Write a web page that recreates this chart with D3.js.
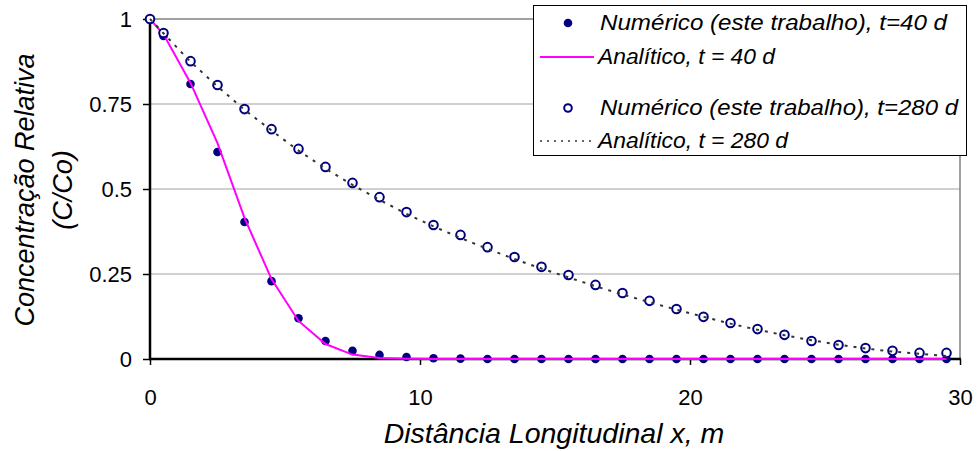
<!DOCTYPE html>
<html>
<head>
<meta charset="utf-8">
<script src="https://cdn.jsdelivr.net/npm/d3@7"></script>
<style>
  body { margin: 0; background: #fff; }
  text { font-family: "Liberation Sans", Arial, sans-serif; fill: #000; }
  .tick text { font-size: 22px; }
  .title { font-size: 28.5px; font-style: italic; }
  .ytitle { font-size: 27px; font-style: italic; }
  .legend text { font-size: 22px; font-style: italic; }
</style>
</head>
<body>
<svg width="980" height="451"></svg>
<script>
// distance (m)
const xs = [0, 0.5, 1.5, 2.5, 3.5, 4.5, 5.5, 6.5, 7.5, 8.5, 9.5, 10.5, 11.5, 12.5, 13.5, 14.5,
            15.5, 16.5, 17.5, 18.5, 19.5, 20.5, 21.5, 22.5, 23.5, 24.5, 25.5, 26.5, 27.5, 28.5, 29.5];

const num40 = [1, 0.95, 0.809, 0.609, 0.403, 0.229, 0.12, 0.053, 0.024, 0.012, 0.006, 0.002, 0.001, 0, 0, 0,
               0, 0, 0, 0, 0, 0, 0, 0, 0, 0, 0, 0, 0, 0, 0];
const ana40 = [1, 0.955, 0.812, 0.635, 0.415, 0.235, 0.112, 0.044, 0.013, 0.003, 0.001, 0, 0, 0, 0, 0,
               0, 0, 0, 0, 0, 0, 0, 0, 0, 0, 0, 0, 0, 0, 0];
const num280 = [1, 0.959, 0.876, 0.806, 0.735, 0.676, 0.618, 0.565, 0.518, 0.476, 0.432, 0.394, 0.365, 0.329, 0.300, 0.271,
                0.247, 0.218, 0.194, 0.171, 0.147, 0.124, 0.106, 0.088, 0.071, 0.053, 0.041, 0.032, 0.024, 0.018, 0.018];
const ana280 = [1, 0.958, 0.874, 0.802, 0.733, 0.672, 0.613, 0.560, 0.512, 0.468, 0.427, 0.390, 0.356, 0.324, 0.294, 0.266,
                0.240, 0.214, 0.190, 0.167, 0.145, 0.124, 0.104, 0.086, 0.070, 0.055, 0.042, 0.031, 0.022, 0.015, 0.009];

const xTicks = [0, 10, 20, 30];
const yTicks = [0, 0.25, 0.5, 0.75, 1];
const yTickLabels = ["0", "0.25", "0.5", "0.75", "1"];

const svg = d3.select("svg");
const x = d3.scaleLinear().domain([0, 30]).range([150, 960]);
const y = d3.scaleLinear().domain([0, 1]).range([359, 19]);

// grid
svg.append("g")
  .selectAll("line")
  .data(yTicks.filter(d => d > 0))
  .enter()
  .append("line")
  .attr("x1", x(0)).attr("x2", x(30))
  .attr("y1", d => y(d)).attr("y2", d => y(d))
  .attr("stroke", d => d === 1 ? "#808080" : "#c0c0c0")
  .attr("stroke-width", 1.5);

// right border
svg.append("line")
  .attr("x1", x(30)).attr("x2", x(30))
  .attr("y1", y(1)).attr("y2", y(0))
  .attr("stroke", "#808080").attr("stroke-width", 1.5);

// axes
const yAxis = svg.append("g")
  .attr("transform", `translate(${x(0)},0)`)
  .call(d3.axisLeft(y).tickValues(yTicks).tickFormat((d, i) => yTickLabels[i]).tickSize(7).tickPadding(11));
const xAxis = svg.append("g")
  .attr("transform", `translate(0,${y(0)})`)
  .call(d3.axisBottom(x).tickValues(xTicks).tickSize(6).tickPadding(24));
[yAxis, xAxis].forEach(a => {
  a.select(".domain").remove();
  a.selectAll(".tick line").attr("stroke", "#000").attr("stroke-width", 1.5);
  a.selectAll(".tick text").attr("fill", "#000");
});
svg.append("line")
  .attr("x1", x(0)).attr("x2", x(0)).attr("y1", y(1)).attr("y2", y(0) + 1)
  .attr("stroke", "#000").attr("stroke-width", 2.5);
svg.append("line")
  .attr("x1", x(0) - 1).attr("x2", x(30) + 1).attr("y1", y(0)).attr("y2", y(0))
  .attr("stroke", "#000").attr("stroke-width", 2.5);

// titles
svg.append("text")
  .attr("class", "title")
  .attr("x", 554).attr("y", 443)
  .attr("text-anchor", "middle")
  .text("Distância Longitudinal x, m");
const yt = svg.append("text")
  .attr("class", "ytitle")
  .attr("text-anchor", "middle")
  .attr("transform", "translate(34,190) rotate(-90)");
yt.append("tspan").attr("x", 0).attr("y", 0).text("Concentração Relativa");
yt.append("tspan").attr("x", 0).attr("y", 38).text("(C/Co)");

// series
const navy = "#000080";
const line = d3.line().x((d, i) => x(xs[i])).y(d => y(d));

svg.append("g")
  .selectAll("circle")
  .data(num40)
  .enter()
  .append("circle")
  .attr("cx", (d, i) => x(xs[i]))
  .attr("cy", d => y(d))
  .attr("r", 4.3)
  .attr("fill", navy);

svg.append("path")
  .attr("d", line(ana40))
  .attr("fill", "none")
  .attr("stroke", "#ff00ff")
  .attr("stroke-width", 2);

svg.append("g")
  .selectAll("circle")
  .data(num280)
  .enter()
  .append("circle")
  .attr("cx", (d, i) => x(xs[i]))
  .attr("cy", d => y(d))
  .attr("r", 4.3)
  .attr("fill", "#fff")
  .attr("stroke", navy)
  .attr("stroke-width", 2);

svg.append("path")
  .attr("d", line(ana280))
  .attr("fill", "none")
  .attr("stroke", "#333")
  .attr("stroke-width", 2)
  .attr("stroke-dasharray", "3,6");

// legend
const legend = svg.append("g").attr("class", "legend");
legend.append("rect")
  .attr("x", 533.5).attr("y", 5.5)
  .attr("width", 433).attr("height", 150)
  .attr("fill", "#fff").attr("stroke", "#000");

const legendItems = [
  { label: "Numérico (este trabalho), t=40 d", y: 23, w: 347, tx: 600, kind: "dot" },
  { label: "Analítico, t = 40 d", y: 57, w: 177, tx: 598, kind: "solid" },
  { label: "Numérico (este trabalho), t=280 d", y: 108, w: 358, tx: 600, kind: "ring" },
  { label: "Analítico, t = 280 d", y: 141, w: 190, tx: 598, kind: "dotted" }
];

legendItems.forEach(d => {
  if (d.kind === "dot") {
    legend.append("circle").attr("cx", 568).attr("cy", d.y).attr("r", 4.3).attr("fill", navy);
  } else if (d.kind === "ring") {
    legend.append("circle").attr("cx", 568).attr("cy", d.y).attr("r", 3.8)
      .attr("fill", "#fff").attr("stroke", navy).attr("stroke-width", 2);
  } else {
    legend.append("line")
      .attr("x1", 540).attr("x2", 594).attr("y1", d.y).attr("y2", d.y)
      .attr("stroke", d.kind === "solid" ? "#ff00ff" : "#333")
      .attr("stroke-width", d.kind === "solid" ? 2 : 1.5)
      .attr("stroke-dasharray", d.kind === "solid" ? null : "2,5");
  }
  legend.append("text")
    .attr("x", d.tx).attr("y", d.y + 7)
    .attr("textLength", d.w)
    .attr("lengthAdjust", "spacingAndGlyphs")
    .text(d.label);
});
</script>
</body>
</html>
